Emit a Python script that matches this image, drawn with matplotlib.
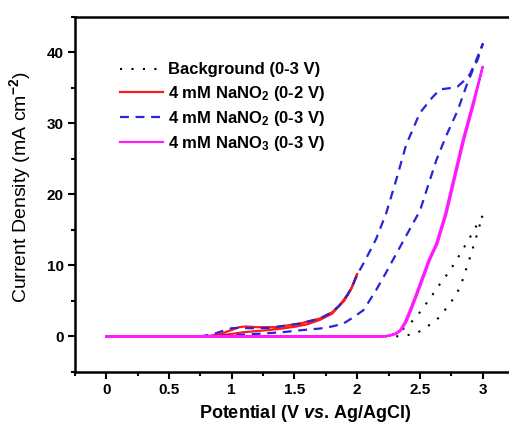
import matplotlib
matplotlib.use('Agg')
import matplotlib.pyplot as plt
from matplotlib.ticker import MultipleLocator

plt.rcParams['font.family'] = ['Liberation Sans', 'DejaVu Sans']
plt.rcParams['font.weight'] = 'bold'
plt.rcParams['mathtext.fontset'] = 'custom'
plt.rcParams['mathtext.rm'] = 'Liberation Sans'
plt.rcParams['mathtext.bf'] = 'Liberation Sans:bold'
plt.rcParams['mathtext.it'] = 'Liberation Sans:bold:italic'
plt.rcParams['mathtext.default'] = 'bf'

# CV loops: potential (V vs Ag/AgCl) and current density (mA cm-2), forward then reverse scan
bg_v = [0, 2.23, 2.30, 2.39, 2.47, 2.58, 2.66, 2.74, 2.82, 2.90, 2.96, 3.00,
        2.98, 2.94, 2.90, 2.82, 2.74, 2.63, 2.55, 2.47, 2.38, 2.31, 0]
bg_j = [0, 0, 0.4, 1.3, 2.7, 5.35, 7.4, 9.3, 11.6, 14.0, 15.9, 17.0,
        15.9, 13.5, 11.2, 6.9, 4.6, 2.25, 1.3, 0.4, 0.1, 0, 0]

no2_2v_v = [0, 0.80, 0.90, 1.00, 1.06, 1.11, 1.20, 1.35, 1.54, 1.70, 1.80, 1.86, 1.92, 1.96, 2.00,
            1.95, 1.90, 1.80, 1.70, 1.60, 1.50, 1.40, 1.30, 1.20, 1.10, 1.00, 0.90, 0.80, 0]
no2_2v_j = [0, 0, 0.3, 0.9, 1.3, 1.4, 1.3, 1.3, 1.8, 2.5, 3.4, 4.4, 5.8, 7.0, 8.8,
            6.6, 5.1, 3.2, 2.3, 1.7, 1.35, 1.1, 0.9, 0.75, 0.6, 0.35, 0.1, 0, 0]

no2_3v_v = [0, 0.75, 0.85, 0.95, 1.00, 1.05, 1.15, 1.30, 1.54, 1.70, 1.80, 1.86, 1.92, 1.96, 2.00,
            2.06, 2.15, 2.23, 2.31, 2.39, 2.50, 2.60, 2.66, 2.75, 2.80, 2.85, 2.90, 2.95, 3.00,
            2.96, 2.92, 2.87, 2.80, 2.71, 2.63, 2.56, 2.50, 2.40, 2.31, 2.23, 2.15, 2.05,
            1.97, 1.89, 1.80, 1.70, 1.54, 1.41, 1.25, 1.14, 1.00, 0.85, 0.70, 0]
no2_3v_j = [0, 0, 0.3, 0.9, 1.15, 1.2, 1.15, 1.2, 1.8, 2.5, 3.4, 4.4, 5.8, 7.0, 8.7,
            10.6, 13.7, 17.3, 22.0, 27.0, 31.5, 33.7, 34.8, 35.0, 35.2, 36.0, 37.0, 39.0, 41.2,
            39.0, 37.5, 35.3, 31.8, 28.3, 24.8, 21.0, 17.7, 14.5, 11.6, 9.0, 6.5, 3.7,
            2.7, 1.8, 1.4, 1.1, 0.85, 0.6, 0.4, 0.3, 0.15, 0.05, 0, 0]

no3_v = [0, 2.20, 2.25, 2.30, 2.34, 2.38, 2.42, 2.47, 2.52, 2.57, 2.63, 2.70, 2.77, 2.84, 2.92, 3.00,
         2.93, 2.85, 2.78, 2.71, 2.64, 2.58, 2.53, 2.48, 2.43, 2.39, 2.35, 2.31, 2.26, 2.21, 0]
no3_j = [0, 0, 0.1, 0.35, 0.85, 2.0, 3.7, 6.0, 8.4, 10.8, 13.1, 17.2, 22.4, 27.6, 32.8, 38.0,
         32.8, 27.6, 22.4, 17.2, 13.1, 10.8, 8.4, 6.0, 3.7, 2.0, 0.85, 0.35, 0.1, 0, 0]

labels = ['Background (0-3 V)', '4 mM NaNO$_2$ (0-2 V)',
          '4 mM NaNO$_2$ (0-3 V)', '4 mM NaNO$_3$ (0-3 V)']

fig = plt.figure(figsize=(5.09, 4.25), dpi=100)
ax = fig.add_axes([0.147, 0.125, 0.863, 0.835])

ax.plot(bg_v, bg_j, color='black', lw=1.5, ls=(0, (1, 4.5)), label=labels[0])
ax.plot(no2_2v_v, no2_2v_j, color='#ff1a1a', lw=1.6, label=labels[1])
ax.plot(no2_3v_v, no2_3v_j, color='#2626d9', lw=1.6, ls=(0, (4, 3)), label=labels[2])
ax.plot(no3_v, no3_j, color='#ff1aff', lw=1.6, label=labels[3])

ax.set_xlim(-0.25, 3.25)
ax.set_ylim(-5, 45)
ax.xaxis.set_major_locator(MultipleLocator(0.5))
ax.xaxis.set_minor_locator(MultipleLocator(0.25))
ax.yaxis.set_major_locator(MultipleLocator(10))
ax.yaxis.set_minor_locator(MultipleLocator(5))
ax.set_xticks([0, 0.5, 1, 1.5, 2, 2.5, 3])
ax.set_xticklabels(['0', '0.5', '1', '1.5', '2', '2.5', '3'])
ax.tick_params(which='major', direction='out', length=5, width=1.5, labelsize=11, pad=3)
ax.tick_params(which='minor', direction='out', length=3, width=1.5)
for s in ax.spines.values():
    s.set_linewidth(1.8)
ax.spines['right'].set_visible(False)

ax.set_xlabel('Potential (V $\\it{vs}$. Ag/AgCl)', fontsize=13, fontweight='bold')
ax.xaxis.set_label_coords(0.525, -0.088)
ax.set_ylabel('Current Density (mA cm$^{\\mathrm{-2}}$)', fontsize=14, fontweight='normal')
ax.yaxis.set_label_coords(-0.096, 0.52)

ax.legend(loc='upper left', bbox_to_anchor=(0.1025, 0.872), frameon=False, fontsize=12,
          handlelength=2.6, handletextpad=0.3, labelspacing=0.37, borderpad=0, borderaxespad=0)

fig.savefig('out.png', dpi=100)
